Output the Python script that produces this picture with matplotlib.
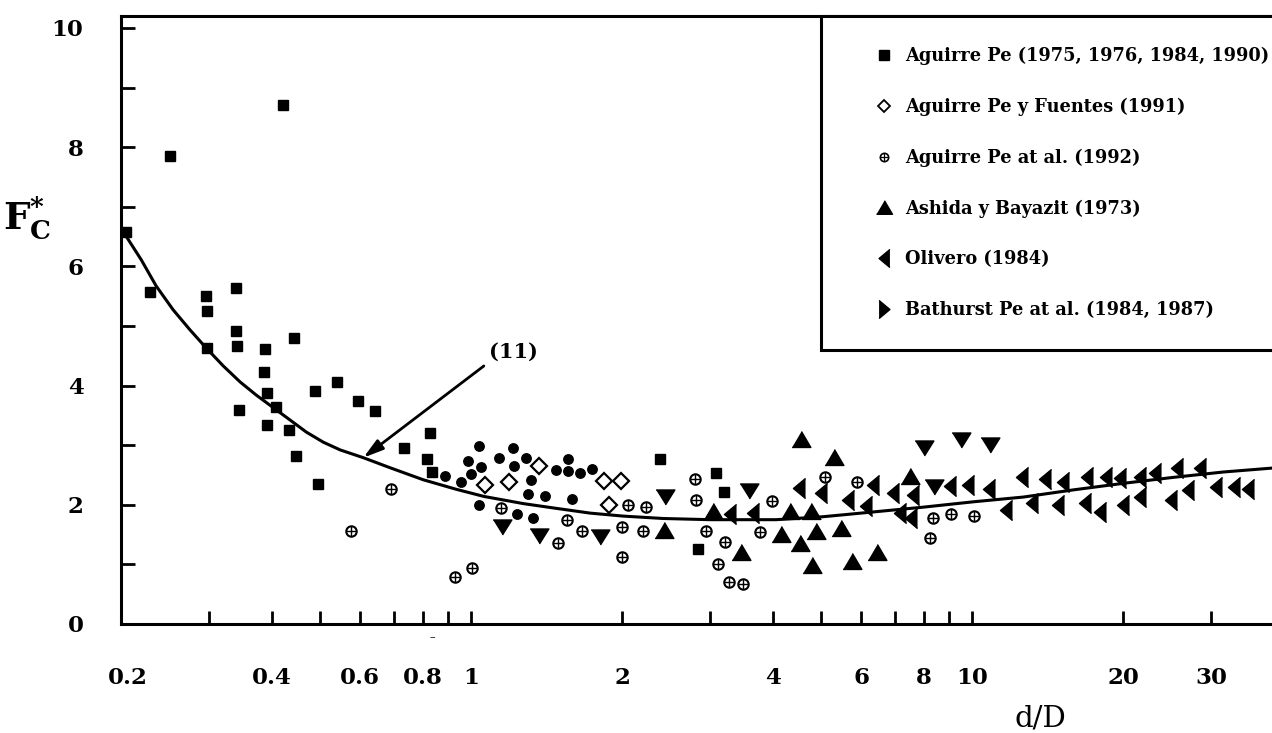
import matplotlib.pyplot as plt
import matplotlib.transforms as mtrans
from matplotlib.lines import Line2D
from matplotlib.ticker import FixedLocator, NullLocator

plt.rcParams['font.family'] = 'DejaVu Serif'
plt.rcParams['font.weight'] = 'bold'
plt.rcParams['mathtext.fontset'] = 'dejavuserif'

# fitted curve, eq. (11)
curve_x = [0.2, 0.2195, 0.2351, 0.2542, 0.2749, 0.2959, 0.3199, 0.3458, 0.3724, 0.4026,
           0.4353, 0.4686, 0.5067, 0.5478, 0.609, 0.6894, 0.8019, 0.9333, 1.06, 1.27,
           1.478, 1.728, 2.011, 2.416, 3.0, 4.06, 5.04, 6.345, 7.98, 10.05, 12.65,
           15.91, 20.02, 25.19, 31.7, 40.25]
curve_y = [6.64, 6.11, 5.67, 5.27, 4.93, 4.63, 4.33, 4.06, 3.84, 3.63,
           3.42, 3.22, 3.05, 2.92, 2.79, 2.62, 2.42, 2.26, 2.14, 2.02,
           1.94, 1.86, 1.81, 1.77, 1.75, 1.75, 1.80, 1.88, 1.96, 2.05, 2.13,
           2.25, 2.36, 2.46, 2.55, 2.62]

# Aguirre Pe (1975, 1976, 1984, 1990)
sq_x = [0.205, 0.229, 0.25, 0.296, 0.297, 0.297, 0.34, 0.34, 0.341, 0.344, 0.388, 0.386,
        0.392, 0.392, 0.408, 0.421, 0.433, 0.443, 0.447, 0.488, 0.495, 0.54, 0.595, 0.643,
        0.735, 0.828, 0.817, 0.836, 2.38, 3.08, 3.20, 2.83]
sq_y = [6.58, 5.57, 7.85, 5.50, 5.25, 4.63, 5.64, 4.92, 4.66, 3.59, 4.61, 4.23,
        3.88, 3.34, 3.64, 8.71, 3.26, 4.80, 2.82, 3.91, 2.35, 4.06, 3.74, 3.57,
        2.95, 3.20, 2.77, 2.55, 2.77, 2.53, 2.21, 1.26]

# unlabelled series (filled circles)
dot_x = [0.887, 0.955, 1.00, 0.986, 1.037, 1.047, 1.037, 1.137, 1.213, 1.219, 1.288,
         1.318, 1.299, 1.405, 1.235, 1.33, 1.478, 1.562, 1.562, 1.651, 1.744, 1.591]
dot_y = [2.48, 2.38, 2.52, 2.73, 2.99, 2.63, 2.00, 2.79, 2.95, 2.65, 2.79,
         2.42, 2.18, 2.15, 1.85, 1.78, 2.58, 2.77, 2.57, 2.53, 2.60, 2.10]

# Aguirre Pe y Fuentes (1991)
dia_x = [1.066, 1.191, 1.367, 1.843, 1.992, 1.885]
dia_y = [2.33, 2.38, 2.65, 2.40, 2.40, 2.00]

# Aguirre Pe at al. (1992)
opl_x = [0.576, 0.692, 0.929, 1.005, 1.148, 1.554, 1.665, 1.492, 2.001, 2.057, 2.236,
         2.205, 2.001, 2.80, 2.813, 2.945, 3.214, 3.112, 3.273, 3.491, 3.775, 3.988,
         5.09, 5.90, 8.36, 9.08, 10.09, 8.24]
opl_y = [1.56, 2.27, 0.79, 0.94, 1.95, 1.74, 1.56, 1.36, 1.63, 2.00, 1.96,
         1.56, 1.12, 2.43, 2.08, 1.56, 1.38, 1.01, 0.70, 0.67, 1.54, 2.06,
         2.47, 2.38, 1.78, 1.85, 1.81, 1.44]

# Ashida y Bayazit (1973)
up_x = [2.427, 3.041, 3.459, 4.155, 4.332, 4.557, 4.536, 4.771, 4.882, 4.793, 5.304,
        5.477, 5.762, 6.464, 7.52]
up_y = [1.58, 1.90, 1.21, 1.51, 1.90, 3.10, 1.36, 1.90, 1.56, 0.99, 2.80,
        1.61, 1.06, 1.21, 2.48]

# Olivero (1984)
left_x = [3.289, 3.655, 4.515, 4.995, 5.655, 6.345, 6.144, 6.957, 7.625, 7.183, 7.555,
          9.04, 9.82, 10.81, 12.59, 13.99, 15.19, 16.97, 18.52, 19.75, 21.64, 23.19,
          25.66, 28.52, 11.69, 13.18, 14.85, 16.81, 18.01, 20.02, 21.64, 24.96, 26.98,
          30.69, 33.34, 35.56]
left_y = [1.85, 1.86, 2.28, 2.20, 2.08, 2.33, 1.98, 2.20, 2.16, 1.86, 1.78,
          2.32, 2.33, 2.27, 2.47, 2.43, 2.38, 2.47, 2.47, 2.45, 2.47, 2.53,
          2.62, 2.62, 1.91, 2.03, 2.00, 2.03, 1.88, 2.00, 2.13, 2.08, 2.25,
          2.30, 2.30, 2.27]

# Bathurst Pe at al. (1984, 1987)
down_x = [1.153, 1.367, 1.809, 2.439, 3.589, 8.02, 9.51, 10.86, 8.40]
down_y = [1.63, 1.48, 1.46, 2.13, 2.23, 2.95, 3.09, 3.00, 2.30]

xtick_pos = [0.2, 0.3, 0.4, 0.5, 0.6, 0.7, 0.8, 0.9, 1, 2, 3, 4, 5, 6, 7, 8, 9, 10, 20, 30]
xtick_lab = ['0.2', '', '0.4', '', '0.6', '', '0.8', '', '1', '2', '', '4', '', '6', '',
             '8', '', '10', '20', '30']
ytick_pos = [0, 1, 2, 3, 4, 5, 6, 7, 8, 9, 10]
ytick_lab = ['0', '', '2', '', '4', '', '6', '', '8', '', '10']

labels = ['Aguirre Pe (1975, 1976, 1984, 1990)', 'Aguirre Pe y Fuentes (1991)',
          'Aguirre Pe at al. (1992)', 'Ashida y Bayazit (1973)', 'Olivero (1984)',
          'Bathurst Pe at al. (1984, 1987)']

# triangle shapes a bit squashed like the original
tri_up = [(-1, -0.85), (1, -0.85), (0, 0.85)]
tri_down = [(-1, 0.8), (1, 0.8), (0, -0.8)]
tri_left = [(0.6, 1), (-0.6, 0), (0.6, -1)]
tri_right = [(-0.6, 1), (0.6, 0), (-0.6, -1)]

fig = plt.figure(figsize=(12.72, 7.33), dpi=100)
ax = fig.add_axes([121 / 1272, 109 / 733, 1153 / 1272, 608 / 733])

ax.plot(curve_x, curve_y, color='k', lw=2.2, zorder=2)
ax.plot(sq_x, sq_y, 's', color='k', ms=7.2, ls='none')
ax.plot(dot_x, dot_y, 'o', color='k', ms=6.8, ls='none')
ax.plot(dia_x, dia_y, 'D', mfc='white', mec='k', mew=1.6, ms=8, ls='none')
ax.plot(opl_x, opl_y, 'o', mfc='white', mec='k', mew=1.5, ms=7.5, ls='none')
ax.plot(opl_x, opl_y, '+', color='k', mew=1.0, ms=7.5, ls='none')
ax.plot(up_x, up_y, marker=tri_up, color='k', ms=13.5, ls='none')
ax.plot(left_x, left_y, marker=tri_left, color='k', ms=14.5, ls='none')
ax.plot(down_x, down_y, marker=tri_down, color='k', ms=13.5, ls='none')

ax.annotate('(11)', xy=(0.609, 2.79), xytext=(1.213, 4.56), ha='center', va='center',
            fontsize=15,
            arrowprops=dict(arrowstyle='-|>,head_length=1.2,head_width=0.35', lw=2,
                            color='k', mutation_scale=10,
                            relpos=(0.0, 0.0), shrinkA=2, shrinkB=0))

ax.set_xscale('log')
ax.set_xlim(0.2, 40)
ax.set_ylim(0, 10.2)
ax.xaxis.set_major_locator(FixedLocator(xtick_pos))
ax.xaxis.set_minor_locator(NullLocator())
ax.set_xticklabels(xtick_lab)
ax.set_yticks(ytick_pos)
ax.set_yticklabels(ytick_lab)
ax.tick_params(axis='x', direction='in', length=9.5, width=2, pad=31, labelsize=16.5)
ax.tick_params(axis='y', direction='in', length=10, width=2, pad=27, labelsize=16.5)

# the first x label sits a little right of its tick in the original
first = ax.get_xticklabels()[0]
first.set_transform(first.get_transform() + mtrans.ScaledTranslation(0.07, 0, fig.dpi_scale_trans))

for side in ['left', 'top', 'bottom']:
    ax.spines[side].set_linewidth(2.2)
ax.spines['right'].set_visible(False)

ax.set_xlabel('d/D', fontsize=21, va='center')
ax.xaxis.set_label_coords(0.797, -0.155)
ax.set_ylabel(r'$\mathbf{F}^{*}_{\mathbf{C}}$', fontsize=27, rotation=0, ha='center', va='center')
ax.yaxis.set_label_coords(-0.0815, 0.668)

fig.text(432 / 1272, 1 - 637 / 733, '\u2013', ha='center', va='center', fontsize=8,
         weight='normal')

handles = [
    Line2D([], [], marker='s', color='k', ms=6.5, ls='none'),
    Line2D([], [], marker='D', mfc='white', mec='k', mew=1.3, ms=6.5, ls='none'),
    (Line2D([], [], marker='o', mfc='white', mec='k', mew=1.2, ms=6, ls='none'),
     Line2D([], [], marker='+', color='k', mew=0.9, ms=6, ls='none')),
    Line2D([], [], marker=tri_up, color='k', ms=11.5, ls='none'),
    Line2D([], [], marker=tri_left, color='k', ms=13, ls='none'),
    Line2D([], [], marker=tri_right, color='k', ms=13, ls='none'),
]
leg = ax.legend(handles, labels, loc='upper left', bbox_to_anchor=(821 / 1272, 1 - 16 / 733),
                bbox_transform=fig.transFigure, borderaxespad=0, frameon=True,
                fancybox=False, edgecolor='k', framealpha=1, fontsize=12.8,
                borderpad=1.75, labelspacing=1.83, handlelength=3.6, handletextpad=-0.62)
leg.get_frame().set_linewidth(2.2)

fig.savefig('out.png', dpi=100)
